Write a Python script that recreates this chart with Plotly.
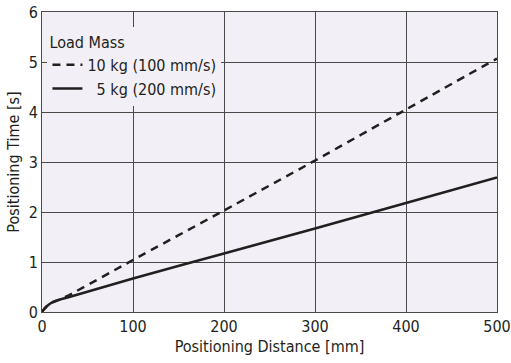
import plotly.graph_objects as go

# Positioning distance [mm] and positioning time [s]
distance = [0, 2, 5, 10, 15, 20, 30, 100, 200, 300, 400, 500]
time_10kg = [0, 0.05, 0.11, 0.18, 0.22, 0.25, 0.34, 1.04, 2.03, 3.03, 4.05, 5.07]
time_5kg = [0, 0.05, 0.11, 0.18, 0.22, 0.25, 0.30, 0.67, 1.17, 1.67, 2.18, 2.69]

x_ticks = [0, 100, 200, 300, 400, 500]
y_ticks = [0, 1, 2, 3, 4, 5, 6]

FONT = "DejaVu Sans Condensed, Roboto, Arial, sans-serif"
FS = 16
PLOT_BG = "#f2eff6"
INK = "#231f20"
GRID = "#4a4a4a"

fig = go.Figure()
fig.add_trace(go.Scatter(
    x=distance, y=time_10kg, mode="lines",
    name="10 kg (100 mm/s)",
    line=dict(color=INK, width=2.5, dash="8px,6px", shape="spline", smoothing=0.6),
))
fig.add_trace(go.Scatter(
    x=distance, y=time_5kg, mode="lines",
    name="\u20075 kg (200 mm/s)",
    line=dict(color=INK, width=2.6, shape="spline", smoothing=0.6),
))

axis_common = dict(
    showgrid=True, gridcolor=GRID, gridwidth=1,
    showline=True, linecolor=GRID, linewidth=1, mirror=True,
    ticks="inside", ticklen=3, tickcolor=GRID,
    zeroline=False, automargin=False,
    tickfont=dict(family=FONT, size=FS, color=INK),
)

fig.update_layout(
    width=511, height=363,
    margin=dict(l=42, r=14, t=12, b=51),
    paper_bgcolor="white",
    plot_bgcolor=PLOT_BG,
    font=dict(family=FONT, color=INK),
    xaxis=dict(
        range=[0, 500], tickvals=x_ticks,
        title=dict(text="Positioning Distance [mm]", font=dict(family=FONT, size=FS), standoff=5),
        **axis_common,
    ),
    yaxis=dict(
        range=[0, 6], tickvals=y_ticks,
        title=dict(text="Positioning Time [s]", font=dict(family=FONT, size=FS), standoff=5),
        **axis_common,
    ),
    legend=dict(
        title=dict(text="Load Mass", font=dict(family=FONT, size=FS, color=INK)),
        font=dict(family=FONT, size=FS, color=INK),
        bgcolor=PLOT_BG, borderwidth=0,
        x=0.012, y=0.95, xanchor="left", yanchor="top",
        itemwidth=30, tracegroupgap=0,
    ),
    showlegend=True,
)

fig.write_html("out.html")
